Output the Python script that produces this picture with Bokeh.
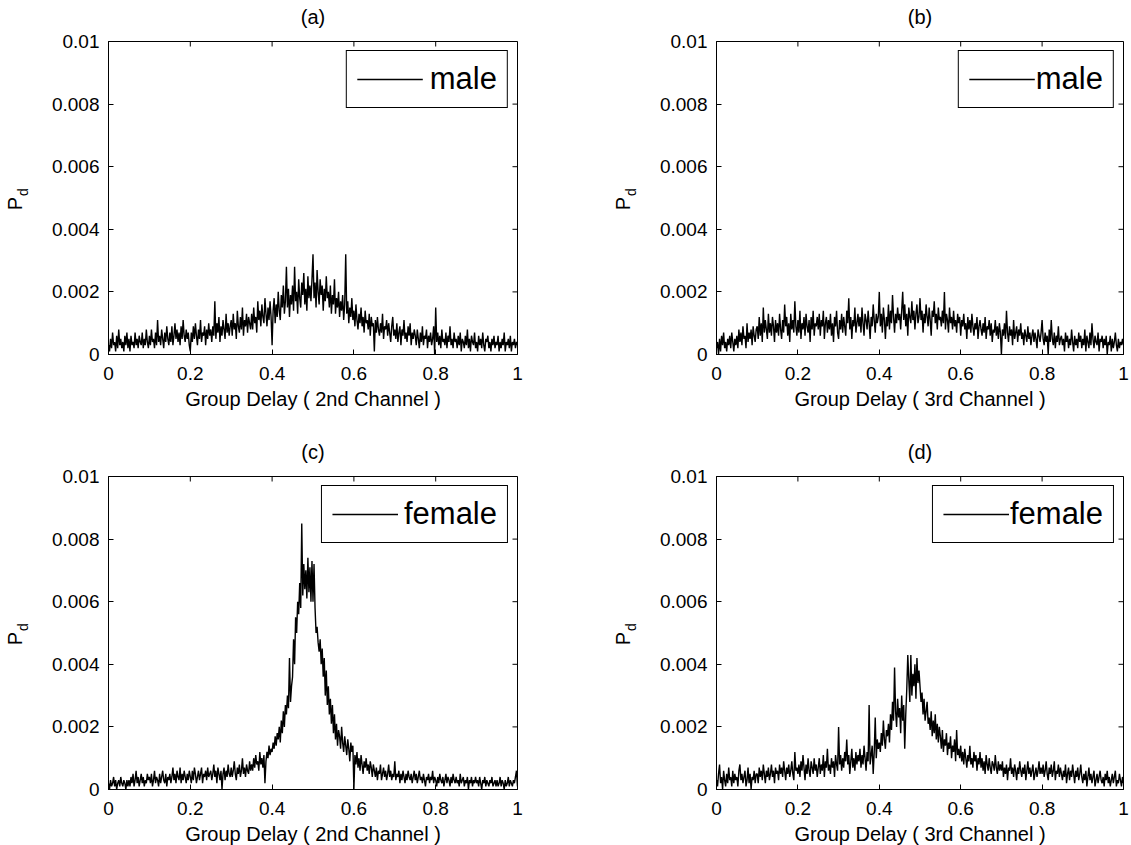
import numpy as np
from bokeh.plotting import figure
from bokeh.models import (LinearAxis, Range1d, CustomJSTickFormatter,
                          Legend, LegendItem, FixedTicker)
from bokeh.layouts import column, row
from bokeh.embed import file_html
from bokeh.resources import INLINE

# Histogram values P_d, listed in units of 1e-4; bins evenly spaced on [0, 1]
UNIT = 1e-4

male_ch2 = [
    3, 1, 5, 2, 7, 3, 4, 1, 6, 2, 8, 3, 5, 2, 4, 1, 6, 3, 7, 2,
    5, 1, 6, 3, 4, 2, 7, 3, 5, 2, 6, 4, 3, 7, 2, 5, 3, 8, 4, 2,
    6, 3, 8, 4, 5, 2, 7, 3, 11, 4, 6, 3, 8, 5, 2, 7, 4, 9, 5, 3,
    7, 4, 9, 3, 6, 10, 5, 8, 4, 7, 3, 9, 5, 11, 6, 4, 8, 5, 7, 3,
    1, 7, 4, 9, 5, 10, 6, 3, 8, 5, 11, 4, 7, 6, 9, 3, 8, 5, 10, 6,
    8, 4, 9, 6, 17, 5, 10, 7, 12, 4, 9, 6, 11, 8, 5, 13, 7, 10, 6, 9,
    11, 6, 13, 8, 10, 5, 14, 9, 7, 12, 8, 15, 6, 11, 9, 13, 7, 12, 10, 8,
    13, 8, 15, 10, 12, 7, 17, 11, 14, 9, 16, 12, 10, 18, 13, 9, 15, 11, 17, 12,
    3, 14, 18, 10, 16, 12, 20, 14, 11, 19, 15, 22, 13, 17, 28, 15, 21, 12, 19, 16,
    22, 14, 28, 17, 20, 13, 24, 18, 15, 23, 19, 26, 16, 21, 14, 25, 18, 22, 17, 24,
    32, 18, 23, 15, 27, 20, 16, 24, 19, 22, 14, 21, 17, 25, 18, 20, 15, 22, 13, 19,
    16, 24, 13, 18, 15, 20, 12, 17, 14, 19, 11, 16, 32, 13, 17, 10, 15, 12, 18, 11,
    14, 9, 16, 11, 8, 13, 10, 15, 9, 12, 7, 14, 10, 11, 8, 13, 6, 12, 9, 10,
    1, 11, 7, 12, 8, 6, 10, 7, 13, 5, 9, 8, 11, 6, 10, 7, 4, 9, 12, 6,
    8, 5, 10, 4, 7, 9, 3, 8, 6, 11, 5, 7, 4, 9, 6, 10, 3, 7, 5, 8,
    6, 3, 8, 5, 2, 7, 4, 9, 3, 6, 5, 8, 2, 6, 4, 7, 3, 5, 9, 0,
    15, 4, 7, 3, 6, 2, 8, 4, 5, 3, 7, 2, 6, 4, 9, 3, 5, 2, 7, 4,
    5, 2, 6, 3, 7, 1, 5, 4, 2, 6, 3, 8, 2, 5, 1, 6, 4, 3, 7, 2,
    4, 1, 6, 3, 5, 2, 7, 3, 1, 5, 4, 6, 2, 4, 1, 5, 3, 6, 2, 4,
    3, 6, 1, 4, 2, 5, 3, 7, 1, 4, 3, 5, 2, 6, 1, 4, 3, 5, 2, 4,
    3,
]

male_ch3 = [
    2, 4, 0, 5, 1, 6, 3, 7, 2, 4, 1, 5, 3, 6, 2, 7, 4, 1, 5, 3,
    6, 2, 8, 4, 7, 3, 9, 5, 6, 2, 10, 4, 7, 5, 8, 3, 9, 6, 4, 8,
    9, 5, 12, 6, 10, 4, 15, 7, 11, 8, 5, 13, 7, 10, 6, 12, 9, 4, 11, 7,
    10, 6, 13, 8, 5, 11, 7, 16, 9, 12, 6, 10, 4, 13, 8, 11, 7, 17, 9, 6,
    11, 7, 14, 5, 10, 8, 12, 6, 13, 9, 7, 11, 4, 12, 8, 14, 6, 10, 9, 12,
    8, 13, 6, 11, 9, 14, 5, 10, 12, 7, 11, 8, 13, 6, 10, 4, 12, 9, 14, 7,
    5, 11, 8, 13, 7, 12, 9, 6, 14, 10, 18, 8, 12, 5, 11, 9, 15, 7, 10, 13,
    9, 12, 7, 15, 10, 6, 13, 11, 8, 14, 10, 5, 12, 9, 16, 11, 7, 13, 10, 12,
    20, 9, 13, 7, 15, 11, 5, 12, 9, 16, 8, 14, 10, 19, 12, 7, 13, 10, 15, 11,
    13, 8, 14, 20, 11, 16, 9, 13, 6, 15, 12, 10, 17, 11, 14, 8, 13, 16, 10, 12,
    18, 11, 14, 7, 13, 10, 16, 12, 9, 15, 11, 6, 14, 12, 17, 10, 13, 8, 15, 11,
    12, 9, 14, 10, 20, 8, 13, 11, 7, 15, 10, 12, 8, 14, 9, 11, 7, 13, 10, 12,
    6, 11, 9, 13, 8, 10, 5, 12, 8, 11, 7, 13, 9, 6, 10, 8, 12, 5, 9, 11,
    8, 6, 10, 7, 12, 5, 9, 8, 11, 6, 10, 4, 8, 7, 11, 6, 9, 5, 10, 7,
    0, 8, 6, 10, 5, 14, 7, 4, 9, 6, 8, 3, 11, 5, 7, 9, 4, 8, 6, 10,
    5, 7, 3, 8, 6, 4, 9, 5, 7, 3, 6, 8, 4, 7, 5, 2, 8, 6, 4, 7,
    11, 5, 3, 7, 4, 6, 0, 8, 4, 11, 5, 3, 7, 2, 6, 4, 9, 3, 5, 6,
    3, 5, 1, 7, 4, 6, 2, 5, 3, 8, 4, 1, 6, 3, 5, 2, 7, 4, 6, 2,
    5, 3, 8, 1, 6, 4, 2, 7, 3, 10, 5, 2, 6, 4, 3, 7, 1, 5, 4, 6,
    2, 5, 3, 6, 0, 4, 3, 6, 1, 5, 2, 4, 7, 3, 1, 5, 2, 4, 3, 5,
    3,
]

female_ch2 = [
    2, 0, 3, 1, 2, 4, 1, 3, 0, 2, 3, 1, 4, 2, 1, 3, 2, 0, 3, 1,
    3, 1, 4, 2, 5, 1, 3, 6, 2, 4, 1, 3, 5, 2, 4, 1, 3, 2, 5, 3,
    4, 2, 5, 1, 3, 6, 2, 4, 3, 1, 5, 2, 4, 6, 3, 2, 5, 1, 4, 3,
    5, 2, 4, 7, 3, 5, 2, 6, 4, 3, 7, 2, 5, 3, 6, 4, 2, 5, 3, 6,
    4, 2, 6, 3, 7, 5, 2, 4, 6, 3, 5, 7, 2, 5, 4, 6, 3, 7, 4, 5,
    6, 3, 5, 8, 4, 6, 2, 7, 5, 3, 6, 0, 5, 7, 3, 6, 4, 8, 5, 4,
    7, 4, 6, 9, 5, 3, 7, 5, 8, 4, 6, 10, 5, 7, 4, 8, 6, 5, 9, 6,
    8, 6, 10, 7, 11, 8, 9, 6, 12, 8, 10, 7, 11, 2, 9, 12, 10, 14, 11, 13,
    12, 15, 13, 17, 14, 18, 16, 20, 15, 22, 18, 25, 20, 27, 24, 30, 26, 42, 28, 33,
    36, 48, 40, 55, 50, 60, 56, 66, 58, 85, 62, 72, 64, 70, 61, 74, 63, 71, 60, 73,
    60, 72, 58, 50, 52, 47, 44, 48, 40, 45, 36, 42, 30, 38, 27, 33, 24, 29, 21, 27,
    18, 24, 16, 21, 14, 19, 17, 13, 20, 15, 12, 17, 14, 11, 16, 13, 9, 15, 12, 14,
    0, 11, 8, 12, 7, 10, 6, 11, 8, 5, 9, 7, 10, 6, 8, 5, 9, 7, 4, 8,
    6, 4, 7, 3, 6, 5, 8, 3, 5, 7, 4, 6, 3, 5, 8, 4, 6, 3, 5, 4,
    9, 3, 5, 4, 6, 2, 5, 3, 6, 4, 2, 5, 3, 6, 4, 3, 5, 2, 4, 6,
    3, 5, 2, 4, 6, 3, 4, 2, 5, 3, 1, 4, 3, 5, 2, 4, 3, 6, 2, 4,
    3, 1, 4, 2, 5, 3, 2, 4, 1, 3, 5, 2, 4, 3, 1, 4, 2, 5, 3, 2,
    4, 2, 3, 1, 5, 2, 3, 4, 1, 3, 2, 4, 0, 3, 2, 4, 1, 3, 2, 4,
    2, 3, 1, 4, 2, 0, 3, 2, 4, 1, 3, 2, 1, 3, 2, 4, 1, 2, 3, 1,
    3, 1, 2, 4, 1, 3, 2, 0, 3, 1, 2, 4, 1, 3, 2, 1, 3, 2, 4, 6,
    1,
]

female_ch3 = [
    3, 1, 5, 8, 2, 4, 0, 6, 3, 1, 5, 2, 7, 3, 4, 1, 6, 2, 5, 3,
    4, 1, 6, 8, 3, 5, 2, 4, 6, 1, 3, 7, 2, 5, 0, 4, 3, 6, 2, 5,
    5, 2, 7, 4, 6, 3, 8, 5, 2, 6, 4, 7, 3, 5, 8, 4, 6, 2, 7, 5,
    6, 3, 8, 5, 7, 4, 9, 6, 3, 7, 5, 8, 4, 6, 9, 5, 3, 12, 6, 7,
    5, 8, 4, 9, 6, 11, 7, 3, 8, 5, 10, 6, 4, 9, 7, 5, 10, 6, 8, 4,
    7, 10, 5, 8, 6, 11, 4, 9, 7, 13, 6, 8, 5, 10, 7, 9, 4, 11, 8, 6,
    20, 8, 11, 6, 10, 7, 12, 9, 16, 8, 11, 5, 9, 13, 7, 10, 6, 12, 8, 11,
    9, 13, 7, 11, 8, 14, 10, 6, 12, 9, 27, 8, 11, 14, 5, 12, 23, 10, 16, 13,
    15, 12, 18, 14, 22, 16, 13, 19, 17, 21, 15, 24, 19, 28, 22, 39, 25, 20, 29, 23,
    26, 18, 30, 22, 27, 13, 24, 32, 43, 35, 28, 43, 30, 37, 33, 40, 29, 42, 34, 38,
    33, 28, 31, 24, 29, 22, 25, 28, 21, 23, 19, 25, 17, 22, 18, 24, 16, 21, 15, 20,
    17, 13, 19, 12, 16, 14, 18, 11, 15, 13, 17, 10, 14, 12, 16, 9, 19, 11, 13, 10,
    14, 9, 12, 8, 13, 10, 7, 11, 9, 14, 8, 10, 7, 12, 9, 11, 6, 10, 8, 12,
    7, 10, 6, 9, 5, 11, 8, 6, 10, 7, 5, 9, 8, 6, 11, 7, 5, 9, 6, 8,
    6, 9, 4, 7, 5, 8, 3, 7, 6, 10, 5, 7, 4, 8, 6, 3, 7, 5, 9, 6,
    4, 7, 5, 8, 3, 6, 9, 5, 7, 4, 6, 8, 3, 5, 7, 4, 6, 9, 5, 7,
    5, 8, 4, 6, 9, 5, 3, 7, 5, 8, 4, 6, 9, 3, 6, 5, 8, 4, 7, 5,
    3, 6, 4, 8, 2, 5, 7, 3, 6, 4, 8, 5, 2, 6, 4, 7, 3, 5, 8, 4,
    2, 5, 3, 6, 1, 4, 7, 3, 5, 2, 4, 6, 1, 3, 5, 2, 4, 6, 3, 2,
    4, 1, 5, 3, 6, 2, 4, 1, 3, 5, 2, 4, 6, 1, 3, 2, 5, 3, 1, 4,
    2,
]

panel_titles = ["(a)", "(b)", "(c)", "(d)"]
legend_labels = ["male", "male", "female", "female"]
x_labels = ["Group Delay ( 2nd Channel )", "Group Delay ( 3rd Channel )",
            "Group Delay ( 2nd Channel )", "Group Delay ( 3rd Channel )"]
y_label_main = "P"
y_label_sub = "d"
x_ticks = [0, 0.2, 0.4, 0.6, 0.8, 1]
y_ticks = [0, 0.002, 0.004, 0.006, 0.008, 0.01]
X_MAX = 1.0
Y_MAX = 0.01

FONT = "Liberation Sans"
FRAME_H = 313
TICK_PX = 5
NBSP = "\u00a0"


def label_axis(text, size, standoff):
    """An axis with no ticks or line, used only to place a text label."""
    return LinearAxis(ticker=FixedTicker(ticks=[]),
                      axis_line_color=None, major_tick_line_color=None,
                      minor_tick_line_color=None, major_tick_out=0,
                      major_tick_in=0, major_label_standoff=0,
                      axis_label=text, axis_label_text_font=FONT,
                      axis_label_text_font_size=size,
                      axis_label_text_font_style="normal",
                      axis_label_text_color="black",
                      axis_label_standoff=standoff)


def make_panel(title, vals, leg_label, xlabel, frame_w, mb_left, mb_right,
               mb_top, mb_bottom, leg_standoff):
    p = figure(frame_width=frame_w, frame_height=FRAME_H,
               min_border_left=mb_left, min_border_right=mb_right,
               min_border_top=mb_top, min_border_bottom=mb_bottom,
               x_range=Range1d(0, X_MAX), y_range=Range1d(0, Y_MAX),
               output_backend="svg", toolbar_location=None)

    p.xgrid.grid_line_color = None
    p.ygrid.grid_line_color = None
    p.outline_line_color = "black"
    p.outline_line_alpha = 1.0
    p.outline_line_width = 1
    p.background_fill_color = "white"
    p.border_fill_color = "white"

    p.xaxis.ticker = FixedTicker(ticks=x_ticks)
    p.yaxis.ticker = FixedTicker(ticks=y_ticks)
    p.xaxis.formatter = CustomJSTickFormatter(code="return tick.toString();")
    p.yaxis.formatter = CustomJSTickFormatter(code="return tick.toString();")
    for ax in (p.xaxis[0], p.yaxis[0]):
        ax.major_tick_in = TICK_PX
        ax.major_tick_out = 0
        ax.minor_tick_line_color = None
        ax.axis_line_color = "black"
        ax.major_tick_line_color = "black"
        ax.major_label_text_font = FONT
        ax.major_label_text_font_size = "19px"
        ax.major_label_text_color = "black"
    p.xaxis.major_label_standoff = 12
    p.yaxis.major_label_standoff = 9
    p.xaxis.axis_label = xlabel
    p.xaxis.axis_label_text_font = FONT
    p.xaxis.axis_label_text_font_size = "20px"
    p.xaxis.axis_label_text_font_style = "normal"
    p.xaxis.axis_label_text_color = "black"
    p.xaxis.axis_label_standoff = 5

    # panel title "(a)" etc. centred above the box
    p.add_layout(label_axis(title, "20px", 14), "above")

    # y label "P" with subscript "d": two label-only axes on the left;
    # no-break spaces shift each letter along the axis (P down, d up)
    p.add_layout(label_axis(NBSP * 3 + y_label_sub, "14px", 18), "left")
    p.add_layout(label_axis(y_label_main + NBSP * 2, "20px", -14), "left")

    # inward tick marks on the top and right edges of the box
    dx = TICK_PX * X_MAX / frame_w
    dy = TICK_PX * Y_MAX / FRAME_H
    p.segment(x0=x_ticks, y0=[Y_MAX] * len(x_ticks), x1=x_ticks,
              y1=[Y_MAX - dy] * len(x_ticks), line_color="black", line_width=1)
    p.segment(x0=[X_MAX] * len(y_ticks), y0=y_ticks, x1=[X_MAX - dx] * len(y_ticks),
              y1=y_ticks, line_color="black", line_width=1)

    xs = np.linspace(0, X_MAX, len(vals))
    ys = np.array(vals, dtype=float) * UNIT
    r = p.line(xs, ys, line_color="black", line_width=1.4)

    leg = Legend(items=[LegendItem(label=leg_label, renderers=[r])],
                 location="top_right", margin=9, padding=10, spacing=0,
                 glyph_width=66, glyph_height=28, label_standoff=leg_standoff,
                 label_text_font=FONT, label_text_font_size="31px",
                 label_text_color="black",
                 border_line_color="black", border_line_width=1,
                 border_line_alpha=1.0, background_fill_alpha=1.0)
    p.add_layout(leg)
    return p


pa = make_panel(panel_titles[0], male_ch2, legend_labels[0], x_labels[0], 409, 108, 91, 41, 81, 7)
pb = make_panel(panel_titles[1], male_ch3, legend_labels[1], x_labels[1], 407, 108, 7, 41, 81, 1)
pc = make_panel(panel_titles[2], female_ch2, legend_labels[2], x_labels[2], 409, 108, 91, 41, 54, 6)
pd = make_panel(panel_titles[3], female_ch3, legend_labels[3], x_labels[3], 407, 108, 7, 41, 54, 1)

layout = column(row(pa, pb), row(pc, pd))

open("out.html", "w").write(file_html(layout, INLINE))
